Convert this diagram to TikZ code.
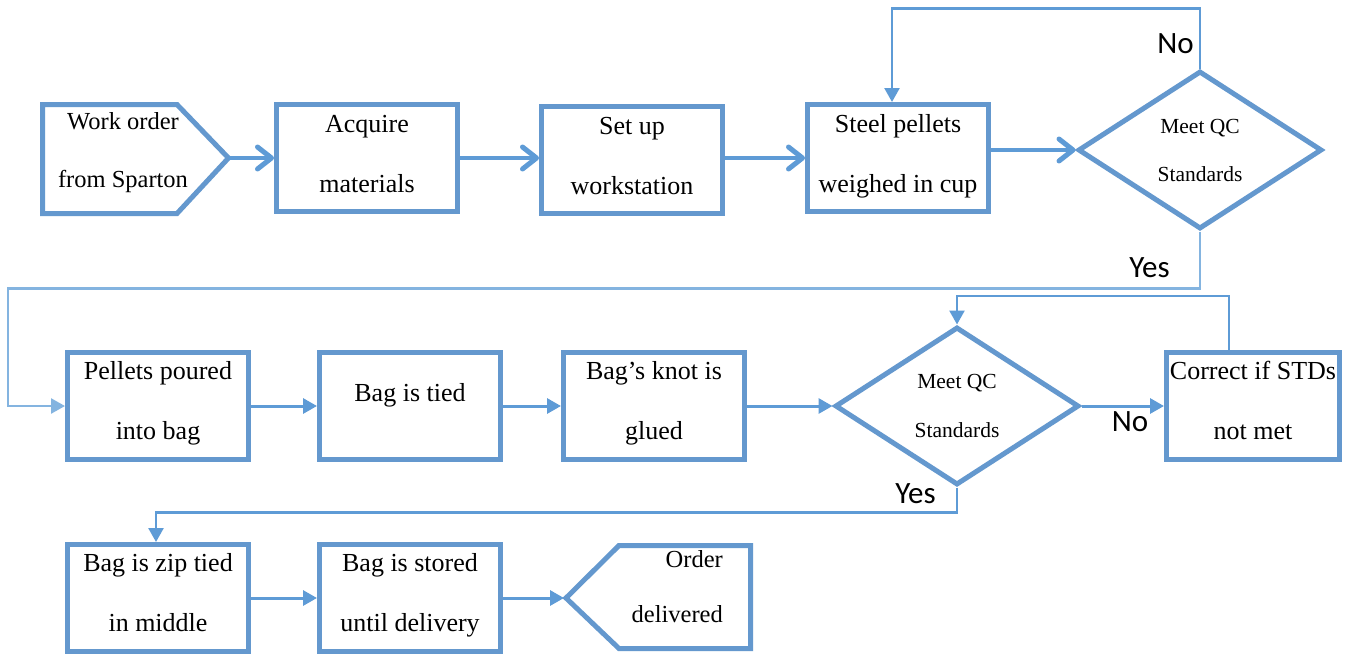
\documentclass[tikz,border=0pt]{standalone}
\usepackage{fontspec}
\setmainfont{Liberation Serif}
\newfontfamily\labelfont{Carlito}
\usetikzlibrary{arrows.meta,shapes.geometric}
\definecolor{edge}{RGB}{100,152,206}
\definecolor{flow}{RGB}{94,155,214}
\definecolor{paleflow}{RGB}{132,180,224}
\begin{document}
\begin{tikzpicture}[x=1pt,y=-1pt,
  stepbox/.style={draw=edge,line width=5pt,minimum width=181pt,minimum height=107pt,inner sep=0pt},
  decision/.style={draw=edge,line width=5pt,diamond,minimum width=244pt,minimum height=158pt,inner sep=0pt},
  outline/.style={draw=edge,line width=5pt,line join=miter},
  txt/.style={anchor=base,inner sep=0pt,font=\fontsize{26}{30}\selectfont},
  smalltxt/.style={anchor=base,inner sep=0pt,font=\fontsize{21.5}{25}\selectfont},
  endtxt/.style={anchor=base,inner sep=0pt,font=\fontsize{24.5}{28}\selectfont},
  answer/.style={anchor=base,inner sep=0pt,font=\labelfont\fontsize{31}{36}\selectfont},
  bigflow/.style={draw=flow,line width=3.5pt,-{Straight Barb[length=14pt,width=22pt,line width=5pt,round]}},
  flowline/.style={draw=flow,line width=3pt,-{Triangle[length=14pt,width=15pt]}},
  loopline/.style={draw=flow,line width=2.5pt,-{Triangle[length=14pt,width=15pt]}},
]
\useasboundingbox (0,0) rectangle (1354,656);
\fill[white] (0,0) rectangle (1354,656);

% ---- top row ----
\draw[outline] (42.5,104.5) -- (177,104.5) -- (228.5,158) -- (177,213.5) -- (42.5,213.5) -- cycle;
\coordinate (wo) at (228.5,158);
\node[endtxt] (wo-a) at (123,129) {Work order};
\node[endtxt] (wo-b) at (123,187) {from Sparton};

\node[stepbox] (acq) at (367,158) {};
\node[txt] (acq-a) at (367,132) {Acquire};
\node[txt] (acq-b) at (367,192) {materials};

\node[stepbox] (setup) at (632,160) {};
\node[txt] (setup-a) at (632,134) {Set up};
\node[txt] (setup-b) at (632,194) {workstation};

\node[stepbox] (steel) at (898,158) {};
\node[txt] (steel-a) at (898,132) {Steel pellets};
\node[txt] (steel-b) at (898,192) {weighed in cup};

\node[decision] (d1) at (1200,150) {};
\node[smalltxt] (d1-a) at (1200,133) {Meet QC};
\node[smalltxt] (d1-b) at (1200,181) {Standards};

% ---- middle row ----
\node[stepbox] (pellets) at (158,406) {};
\node[txt] (pellets-a) at (158,379) {Pellets poured};
\node[txt] (pellets-b) at (158,439) {into bag};

\node[stepbox] (tied) at (410,406) {};
\node[txt] (tied-a) at (410,401) {Bag is tied};

\node[stepbox] (knot) at (654,406) {};
\node[txt] (knot-a) at (654,379) {Bag’s knot is};
\node[txt] (knot-b) at (654,439) {glued};

\node[decision] (d2) at (957,406) {};
\node[smalltxt] (d2-a) at (957,388) {Meet QC};
\node[smalltxt] (d2-b) at (957,437) {Standards};

\node[stepbox,minimum width=173pt] (correct) at (1253,406) {};
\node[txt] (correct-a) at (1253,379) {Correct if STDs};
\node[txt] (correct-b) at (1253,439) {not met};

% ---- bottom row ----
\node[stepbox] (zip) at (158,598) {};
\node[txt] (zip-a) at (158,571) {Bag is zip tied};
\node[txt] (zip-b) at (158,631) {in middle};

\node[stepbox] (stored) at (410,598) {};
\node[txt] (stored-a) at (410,571) {Bag is stored};
\node[txt] (stored-b) at (410,631) {until delivery};

\draw[outline] (566,598) -- (619,545.5) -- (750.5,545.5) -- (750.5,648.5) -- (619,648.5) -- cycle;
\coordinate (od) at (564,598);
\node[endtxt,anchor=base east] (od-a) at (723,567) {Order};
\node[endtxt,anchor=base east] (od-b) at (723,622) {delivered};

% ---- connectors ----
\draw[bigflow] (wo) -- (acq.west);
\draw[bigflow] (acq.east) -- (acq.east -| setup.west);
\draw[bigflow] (setup.east |- steel.west) -- (steel.west);
\draw[bigflow] (steel.east |- d1.west) -- (d1.west);

\draw[loopline] (d1.north) -- ++(0,-60) -| ([xshift=-6pt]steel.north);
\node[answer] (no1) at (1175.5,53) {No};

\draw[draw=paleflow,line width=2.5pt,-{Triangle[length=14pt,width=15pt]}]
  (d1.south) -- ++(0,57) -| (8,350) |- (pellets.west);
\node[answer] (yes1) at (1149.5,277) {Yes};

\draw[flowline] (pellets.east) -- (tied.west);
\draw[flowline] (tied.east) -- (knot.west);
\draw[flowline] (knot.east) -- (d2.west);
\draw[flowline] (d2.east) -- (correct.west);
\node[answer] (no2) at (1130,431) {No};

\draw[loopline] ([xshift=-24pt]correct.north) -- ++(0,-54) -| (d2.north);

\draw[loopline] (d2.south) -- ++(0,25) -| ([xshift=-2pt]zip.north);
\node[answer] (yes2) at (915.5,503) {Yes};

\draw[flowline] (zip.east) -- (stored.west);
\draw[flowline] (stored.east) -- (od);
\end{tikzpicture}
\end{document}
